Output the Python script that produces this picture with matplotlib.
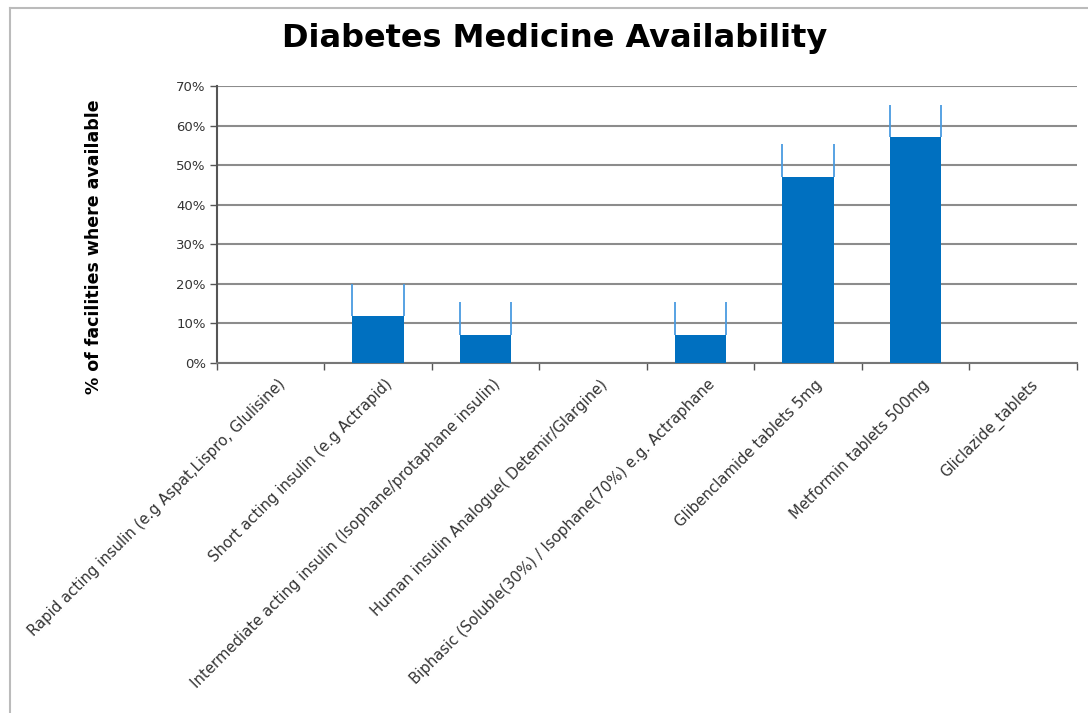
import matplotlib.pyplot as plt
import numpy as np
from matplotlib.lines import Line2D

# Данные
medicines = [
    'Rapid acting insulin (e.g Aspat,Lispro, Glulisine)',
    'Short acting insulin (e.g Actrapid)',
    'Intermediate acting insulin (Isophane/protaphane insulin)',
    'Human insulin Analogue( Detemir/Glargine)',
    'Biphasic (Soluble(30%) / Isophane(70%) e.g. Actraphane',
    'Glibenclamide tablets 5mg',
    'Metformin tablets 500mg',
    'Gliclazide_tablets',
]
available = [0, 12, 7, 0, 7, 47, 57, 0]
upper = [0, 20, 15.5, 0, 15.5, 55.3, 65.3, 0]

fig = plt.figure(figsize=(10.88, 7.13), dpi=100)
ax = fig.add_axes([0.1994, 0.4909, 0.7904, 0.3885])

x = np.arange(len(medicines))
width = 0.48
ax.bar(x, available, width, color='#0070C0', zorder=3)

# верхние "усы" по краям столбцов
for xi, v, u in zip(x, available, upper):
    if u > v:
        ax.vlines([xi - width / 2, xi + width / 2], v, u, color='#4a9be0', lw=1.3, zorder=4)

ax.set_xlim(-0.5, len(medicines) - 0.5)
ax.set_ylim(0, 70)
ax.set_yticks(range(0, 71, 10))
ax.set_yticklabels([f'{t}%' for t in range(0, 71, 10)], fontsize=9.5, color='#333333')
ax.yaxis.grid(True, color='#8c8c8c', lw=1.5, zorder=0)
ax.set_axisbelow(True)

ax.set_xticks(np.arange(-0.5, len(medicines)))
ax.set_xticklabels([])
ax.tick_params(axis='x', length=5, color='#555555', width=1)
ax.tick_params(axis='y', length=5, color='#555555', width=1, pad=3)
for i, name in enumerate(medicines):
    ax.text(i + 0.06, -3.5, name, rotation=45, ha='right', va='top',
            rotation_mode='anchor', fontsize=10.7, color='#333333')

for side in ['top', 'right']:
    ax.spines[side].set_visible(False)
ax.spines['left'].set_color('#555555')
ax.spines['bottom'].set_color('#777777')
ax.spines['left'].set_linewidth(1.5)
ax.spines['bottom'].set_linewidth(1.5)

ax.set_ylabel('% of facilities where available', fontsize=12.5, fontweight='bold')
ax.yaxis.set_label_coords(-0.132, 0.42)
fig.suptitle('Diabetes Medicine Availability', x=0.51, y=0.968, fontsize=23, fontweight='bold')

# рамка вокруг диаграммы
fig.add_artist(Line2D([10 / 1088, 1], [1 - 8 / 713] * 2, color='#bbbbbb', lw=1.5))
fig.add_artist(Line2D([10 / 1088] * 2, [0, 1 - 8 / 713], color='#bbbbbb', lw=1.5))

fig.savefig('out.png', dpi=100)
